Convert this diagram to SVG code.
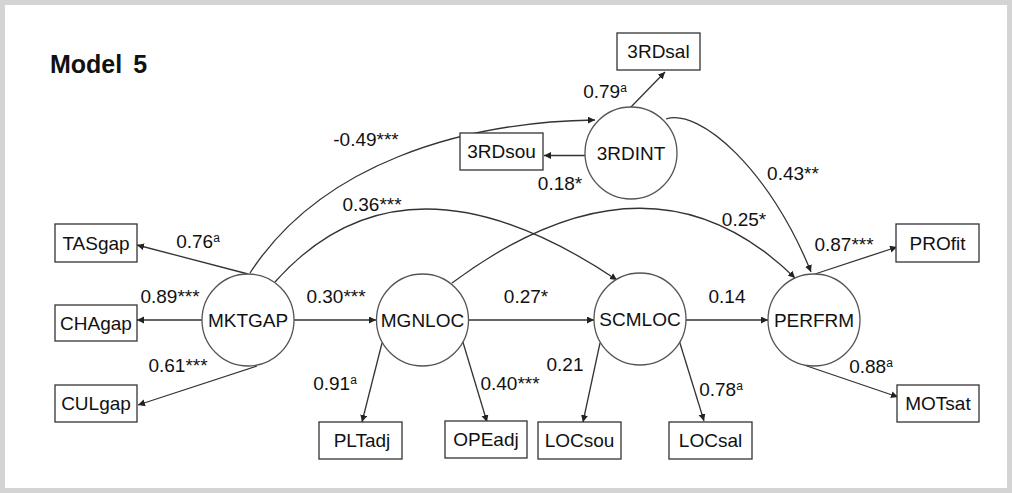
<svg xmlns="http://www.w3.org/2000/svg" width="1012" height="493" viewBox="0 0 1012 493">
<style>
.t{font-family:"Liberation Sans",Arial,sans-serif;font-size:19px;fill:#111;text-anchor:middle}
.lab{font-family:"Liberation Sans",Arial,sans-serif;font-size:19px;fill:#111;text-anchor:middle}
.sup{font-size:12px}
.box{fill:#fff;stroke:#333;stroke-width:1.3}
.lat{fill:#fff;stroke:#555;stroke-width:1.3}
.edge{fill:none;stroke:#333;stroke-width:1.3;marker-end:url(#arr)}
</style>
<defs>
<marker id="arr" markerUnits="userSpaceOnUse" markerWidth="8" markerHeight="8" refX="7" refY="3.5" orient="auto">
<path d="M0,0 L7,3.5 L0,7 z" fill="#222"/>
</marker>
</defs>
<rect x="0" y="0" width="1012" height="493" fill="#fff"/>
<rect x="2.5" y="2.5" width="1007" height="488" fill="#fff" stroke="#d4d4d4" stroke-width="5"/>
<text x="50" y="73" font-family="'Liberation Sans',Arial,sans-serif" font-size="25" font-weight="bold" fill="#111" word-spacing="4">Model 5</text>

<g id="connectors">
<path class="edge" d="M250,273 C320,165 460,122 595,120"/>
<path class="edge" d="M275,282 Q404,137 617,280"/>
<path class="edge" d="M452,283 Q650,136 795,278"/>
<path class="edge" d="M666,119 C700,108 770,170 811,272"/>
<path class="edge" d="M248,274 L137,245"/>
<path class="edge" d="M202,320 L137,320"/>
<path class="edge" d="M257,366 L138,405"/>
<path class="edge" d="M294,320 L376,320"/>
<path class="edge" d="M382,343 L362,422"/>
<path class="edge" d="M462,339 L487,422"/>
<path class="edge" d="M468,320 L594,320"/>
<path class="edge" d="M600,343 L583,422"/>
<path class="edge" d="M679,340 L704,421"/>
<path class="edge" d="M686,320 L768,320"/>
<path class="edge" d="M815,274 L897,247"/>
<path class="edge" d="M804,365 L898,397"/>
<path class="edge" d="M630,108 L665,72"/>
<path class="edge" d="M585,155.5 L544,155.5"/>
</g>

<g id="labels">
<text class="lab" x="366" y="146">-0.49***</text>
<text class="lab" x="372" y="211">0.36***</text>
<text class="lab" x="560" y="190">0.18*</text>
<text class="lab" x="793" y="180">0.43**</text>
<text class="lab" x="744" y="226">0.25*</text>
<text class="lab" x="605" y="98">0.79<tspan class="sup" dy="-6">a</tspan></text>
<text class="lab" x="198" y="248">0.76<tspan class="sup" dy="-6">a</tspan></text>
<text class="lab" x="170" y="303">0.89***</text>
<text class="lab" x="178" y="372">0.61***</text>
<text class="lab" x="336" y="303">0.30***</text>
<text class="lab" x="335" y="390">0.91<tspan class="sup" dy="-6">a</tspan></text>
<text class="lab" x="510" y="390">0.40***</text>
<text class="lab" x="526" y="303">0.27*</text>
<text class="lab" x="565" y="371">0.21</text>
<text class="lab" x="727" y="303">0.14</text>
<text class="lab" x="721" y="396">0.78<tspan class="sup" dy="-6">a</tspan></text>
<text class="lab" x="871" y="373">0.88<tspan class="sup" dy="-6">a</tspan></text>
<text class="lab" x="844" y="251">0.87***</text>
</g>

<g id="MKTGAP"><circle class="lat" cx="248" cy="320" r="46"/><text class="t" x="248" y="327">MKTGAP</text></g>
<g id="MGNLOC"><circle class="lat" cx="422.5" cy="320" r="46"/><text class="t" x="422.5" y="327">MGNLOC</text></g>
<g id="SCMLOC"><circle class="lat" cx="640" cy="319" r="46"/><text class="t" x="640" y="326">SCMLOC</text></g>
<g id="PERFRM"><circle class="lat" cx="814" cy="320" r="46"/><text class="t" x="814" y="327">PERFRM</text></g>
<g id="3RDINT"><circle class="lat" cx="631" cy="153" r="46"/><text class="t" x="631" y="160">3RDINT</text></g>

<g id="3RDsal"><rect class="box" x="617" y="33" width="83" height="37"/><text class="t" x="658.5" y="58">3RDsal</text></g>
<g id="3RDsou"><rect class="box" x="460" y="133" width="83" height="37"/><text class="t" x="501.5" y="158">3RDsou</text></g>
<g id="TASgap"><rect class="box" x="55" y="224" width="82" height="38"/><text class="t" x="96" y="250">TASgap</text></g>
<g id="CHAgap"><rect class="box" x="55" y="305" width="82" height="36"/><text class="t" x="96" y="330">CHAgap</text></g>
<g id="CULgap"><rect class="box" x="55" y="385" width="82" height="37"/><text class="t" x="96" y="410">CULgap</text></g>
<g id="PLTadj"><rect class="box" x="319" y="422" width="83" height="37"/><text class="t" x="362" y="447">PLTadj</text></g>
<g id="OPEadj"><rect class="box" x="445" y="421" width="82" height="37"/><text class="t" x="486" y="446">OPEadj</text></g>
<g id="LOCsou"><rect class="box" x="538" y="422" width="83" height="37"/><text class="t" x="579.5" y="447">LOCsou</text></g>
<g id="LOCsal"><rect class="box" x="669" y="422" width="83" height="37"/><text class="t" x="710.5" y="447">LOCsal</text></g>
<g id="MOTsat"><rect class="box" x="897" y="385" width="82" height="37"/><text class="t" x="938" y="410">MOTsat</text></g>
<g id="PROfit"><rect class="box" x="896" y="224" width="83" height="38"/><text class="t" x="937.5" y="250">PROfit</text></g>
</svg>
